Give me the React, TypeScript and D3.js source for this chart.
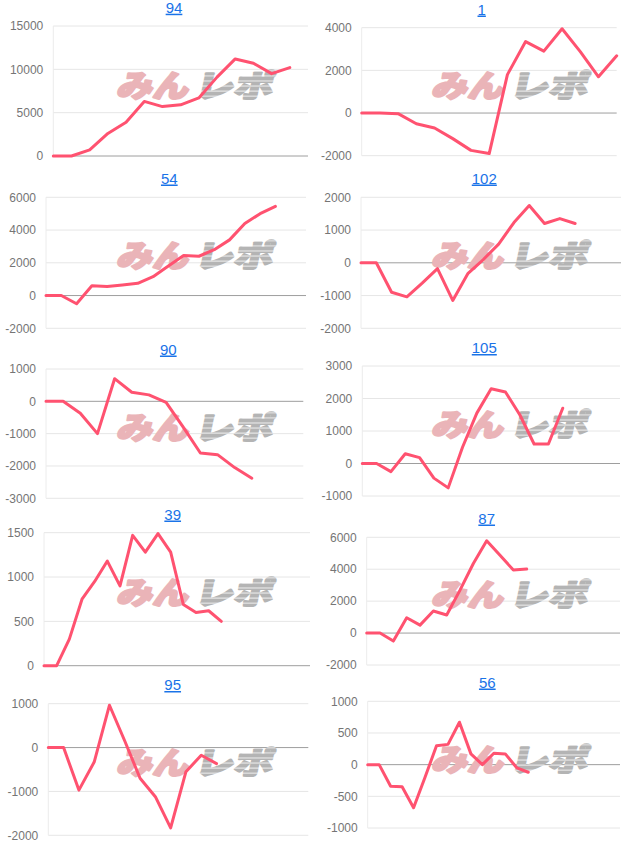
import React from "react";
import * as d3 from "d3";

// ---- data ----
const titles = ["94", "1", "54", "102", "90", "105", "39", "87", "95", "56"];

const s94 = [0, 0, 700, 2600, 3900, 6300, 5700, 5900, 6700, 9100, 11200, 10700, 9500, 10200];
const s1 = [0, 0, -30, -500, -700, -1200, -1750, -1900, 1800, 3350, 2900, 3950, 2880, 1700, 2680];
const s54 = [0, 0, -500, 600, 550, 650, 750, 1150, 1800, 2450, 2400, 2800, 3400, 4400, 5000, 5450];
const s102 = [0, 0, -900, -1040, -620, -180, -1150, -320, 100, 570, 1230, 1750, 1200, 1350, 1200];
const s90 = [0, 0, -370, -1000, 700, 280, 200, -30, -800, -1600, -1650, -2050, -2380];
const s105 = [0, 0, -250, 300, 180, -450, -750, 500, 1550, 2300, 2200, 1500, 600, 600, 1700];
const s39 = [0, 0, 300, 750, 950, 1180, 900, 1470, 1280, 1490, 1280, 690, 600, 620, 500];
const s87 = [0, 0, -500, 960, 500, 1380, 1130, 2690, 4360, 5780, 4870, 3950, 4010];
const s95 = [0, 0, -970, -330, 965, 150, -700, -1120, -1830, -550, -175, -365];
const s56 = [0, 0, -340, -350, -680, -200, 300, 320, 670, 170, 0, 180, 170, -50, -120];

const seriesList = [s94, s1, s54, s102, s90, s105, s39, s87, s95, s56];

// number of x slots on each chart's category axis
const xSlots = [15, 15, 18, 18, 16, 19, 22, 20, 18, 23];

const ticks94 = [0, 5000, 10000, 15000];
const ticks1 = [-2000, 0, 2000, 4000];
const ticks54 = [-2000, 0, 2000, 4000, 6000];
const ticks102 = [-2000, -1000, 0, 1000, 2000];
const ticks90 = [-3000, -2000, -1000, 0, 1000];
const ticks105 = [-1000, 0, 1000, 2000, 3000];
const ticks39 = [0, 500, 1000, 1500];
const ticks87 = [-2000, 0, 2000, 4000, 6000];
const ticks95 = [-2000, -1000, 0, 1000];
const ticks56 = [-1000, -500, 0, 500, 1000];
const tickList = [ticks94, ticks1, ticks54, ticks102, ticks90, ticks105, ticks39, ticks87, ticks95, ticks56];

// ---- layout (cell-relative) ----
const cellX = [0, 315];
const cellY = [0, 165, 335, 505, 672];
// [left, right, top, bottom, titleX, titleBaseline]
const plotBoxes = [
  [53.3, 308, 26, 156, 174, 12.7],
  [46.7, 301.7, 27.7, 155.7, 166.7, 14.5],
  [46, 306, 32.3, 163.3, 169.3, 18.5],
  [46, 306, 32.3, 163.3, 169.3, 18.5],
  [46, 303.3, 34, 163.3, 168.3, 19.5],
  [47.3, 305, 31, 161, 169.3, 18],
  [44, 310, 27.7, 160.7, 172.7, 14.5],
  [51.7, 305, 32.3, 160, 171.7, 18.5],
  [48.3, 308.3, 31.7, 163.3, 172.7, 18],
  [52.7, 305, 29.3, 156, 172.3, 15.5],
];
// watermark vertical baseline per chart (cell-relative)
const wmY = [97, 97, 102, 102, 104, 101, 99, 101, 102, 99];

const LINE_COLOR = "#ff5270";
const FONT = "Arial, 'Liberation Sans', sans-serif";
const CJK = "'Noto Sans CJK JP', sans-serif";

function Watermark({ yb }: { yb: number }) {
  return (
    <g transform={`translate(106,${yb})`}>
      <g transform="skewX(-12) scale(1,0.85)">
        <text
          x={10}
          y={0}
          fontFamily={CJK}
          fontWeight={900}
          fontSize={36}
          fill="#eab4b8"
          stroke="#eab4b8"
          strokeWidth={2.6}
          strokeLinejoin="round"
          textLength={72}
          lengthAdjust="spacingAndGlyphs"
        >
          みん
        </text>
        <text
          x={88}
          y={0}
          fontFamily={CJK}
          fontWeight={900}
          fontSize={36}
          fill="url(#stripes)"
          stroke="url(#stripes)"
          strokeWidth={2.6}
          strokeLinejoin="round"
          textLength={78}
          lengthAdjust="spacingAndGlyphs"
        >
          レポ
        </text>
      </g>
    </g>
  );
}

function Chart({ idx }: { idx: number }) {
  const col = idx % 2;
  const row = Math.floor(idx / 2);
  const [left, right, top, bottom, tx, ty] = plotBoxes[idx];
  const ticks = tickList[idx];
  const data = seriesList[idx];
  const x = d3.scaleLinear().domain([0, xSlots[idx] - 1]).range([left, right]);
  const y = d3
    .scaleLinear()
    .domain([d3.min(ticks) as number, d3.max(ticks) as number])
    .range([bottom, top]);
  const line = d3
    .line<number>()
    .x((_, i) => x(i))
    .y((d) => y(d));
  return (
    <g transform={`translate(${cellX[col]},${cellY[row]})`}>
      <text
        x={tx}
        y={ty}
        textAnchor="middle"
        fontFamily={FONT}
        fontSize={15}
        fill="#1a73e8"
        textDecoration="underline"
      >
        {titles[idx]}
      </text>
      {ticks.map((t) => (
        <g key={t}>
          <line
            x1={left}
            x2={right}
            y1={y(t)}
            y2={y(t)}
            stroke={t === 0 ? "#9e9e9e" : "#e6e6e6"}
            strokeWidth={1}
          />
          <text
            x={left - 10}
            y={y(t)}
            dy="0.35em"
            textAnchor="end"
            fontFamily={FONT}
            fontSize={12}
            fill="#757575"
          >
            {t}
          </text>
        </g>
      ))}
      <line x1={left} x2={left} y1={top} y2={bottom} stroke="#ececec" strokeWidth={1} />
      <Watermark yb={wmY[idx]} />
      <path
        d={line(data) || ""}
        fill="none"
        stroke={LINE_COLOR}
        strokeWidth={3}
        strokeLinejoin="round"
        strokeLinecap="round"
      />
    </g>
  );
}

export default function App() {
  return (
    <div style={{ position: "absolute", left: 0, top: 0, width: 631, height: 843, background: "#fff" }}>
      <svg width={631} height={843} style={{ display: "block" }}>
        <defs>
          <pattern id="stripes" width="8" height="6" patternUnits="userSpaceOnUse">
            <rect width="8" height="6" fill="#b4b4b4" />
            <rect y="4.4" width="8" height="1.4" fill="#e4e4e4" />
          </pattern>
        </defs>
        <rect width={631} height={843} fill="#fff" />
        {titles.map((_, i) => (
          <Chart key={i} idx={i} />
        ))}
      </svg>
    </div>
  );
}
